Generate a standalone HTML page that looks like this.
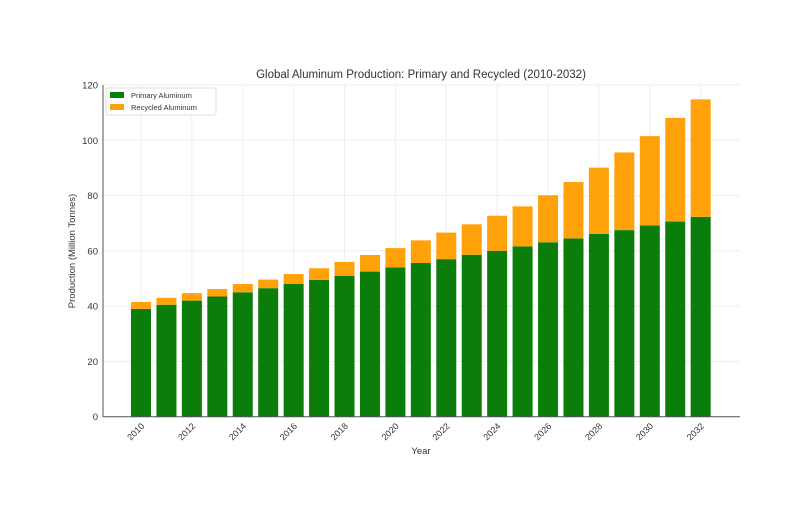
<!DOCTYPE html>
<html><head><meta charset="utf-8"><style>
body{margin:0;background:#fff;}
svg{display:block;font-family:"Liberation Sans",sans-serif;}
</style></head><body>
<svg id="chart" width="800" height="512">
<text x="421" y="78" text-anchor="middle" font-size="11.5" fill="#333">Global Aluminum Production: Primary and Recycled (2010-2032)</text>
<text transform="translate(75,251) rotate(-90)" text-anchor="middle" font-size="9.5" fill="#333">Production (Million Tonnes)</text>
<text x="421" y="454" text-anchor="middle" font-size="9.5" fill="#333">Year</text>
<g id="grid"></g><g id="bars"></g><g id="axes"></g>
<g>
<rect x="106" y="88" width="110" height="27" fill="#fff" stroke="#ddd" rx="2"/>
<rect x="110" y="92" width="14" height="6" fill="#0a7d0a"/>
<text x="131" y="98" font-size="7.5" fill="#333">Primary Aluminum</text>
<rect x="110" y="104" width="14" height="6" fill="#ffa20a"/>
<text x="131" y="110" font-size="7.5" fill="#333">Recycled Aluminum</text>
</g>
</svg>
<script>
const years=[2010,2011,2012,2013,2014,2015,2016,2017,2018,2019,2020,2021,2022,2023,2024,2025,2026,2027,2028,2029,2030,2031,2032];
const primary=[39,40.5,42,43.5,45,46.5,48,49.5,51,52.5,54,55.6,57,58.6,60,61.6,63.1,64.5,66.1,67.5,69.2,70.6,72.3];
const recycled=[2.5,2.5,2.7,2.7,3,3.1,3.6,4.2,5,6,7,8.2,9.6,11,12.7,14.5,17,20.4,24,28.1,32.3,37.5,42.5];
const yTicks=[0,20,40,60,80,100,120];
const NS="http://www.w3.org/2000/svg";
const L=103,R=740,T=85,B=416.7;
const x=i=>141+i*25.44;
const y=v=>B-(v/120)*(B-T);
function mk(p,t,a){const e=document.createElementNS(NS,t);for(const k in a)e.setAttribute(k,a[k]);p.appendChild(e);return e;}
const grid=document.getElementById('grid'),bars=document.getElementById('bars'),axes=document.getElementById('axes');
yTicks.forEach(v=>{
 const g=mk(grid,'line',{x1:L,x2:R,y1:y(v),y2:y(v),stroke:'#eee','stroke-width':1});
 
 
 const t=mk(axes,'text',{x:L-5,y:y(v)+3.5,'text-anchor':'end','font-size':9.5,fill:'#333'});
 t.textContent=v;
 
 
});
years.forEach((yr,i)=>{
 if(yr%2===0){
  const g=mk(grid,'line',{x1:x(i),x2:x(i),y1:T,y2:B,stroke:'#eee','stroke-width':1});
  
  
  const t=mk(axes,'text',{transform:`translate(${x(i)+4},${B+10}) rotate(-45)`,'text-anchor':'end','font-size':9,fill:'#333'});
  t.textContent=yr;
  
  
 }
 const p=mk(bars,'rect',{x:x(i)-10,width:20,y:y(primary[i]),height:B-y(primary[i]),fill:'#0a7d0a'});
 
 
 const tot=primary[i]+recycled[i];
 const r=mk(bars,'rect',{x:x(i)-10,width:20,y:y(tot),height:y(primary[i])-y(tot),fill:'#ffa20a'});
 
 
});
const ax=mk(axes,'line',{x1:L,x2:R,y1:B,y2:B,stroke:'#555','stroke-width':1});


const ay=mk(axes,'line',{x1:L,x2:L,y1:T,y2:B,stroke:'#555','stroke-width':1});


</script>
</body></html>
